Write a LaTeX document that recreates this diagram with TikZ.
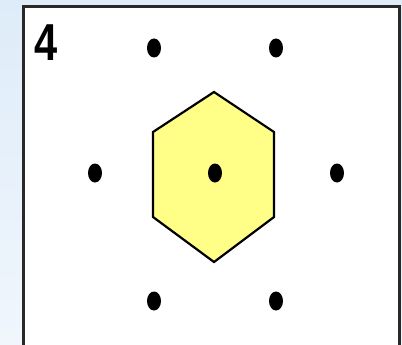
\documentclass[tikz,border=0pt]{standalone}
\usepackage{fontspec}
\setmainfont{Liberation Sans}
\usetikzlibrary{shapes.geometric}
\definecolor{bgtop}{RGB}{222,236,249}
\definecolor{bgbot}{RGB}{240,246,252}
\definecolor{frame}{RGB}{40,40,40}
\definecolor{hexfill}{RGB}{255,255,136}
\begin{document}
\begin{tikzpicture}[x=1pt,y=-1pt,
  dot/.style={ellipse, fill=black, minimum width=14pt, minimum height=19pt, inner sep=0pt},
  hexa/.style={draw=black, fill=hexfill, line width=2.2pt, line join=miter},
  frameline/.style={draw=frame, line width=3pt}]
\useasboundingbox (0,0) rectangle (402,345);
\shade[top color=bgtop, bottom color=bgbot] (0,0) rectangle (402,345);
\fill[white] (23,7) rectangle (400,345);
\draw[frameline] (23,346) -- (23,7) -- (399.5,7) -- (399.5,346);
\node[font=\bfseries\fontsize{52}{52}\selectfont, xscale=0.8, inner sep=0pt] (num) at (46.5,43) {4};
\coordinate (h1) at (214,92);
\coordinate (h2) at (274,132);
\coordinate (h3) at (274,217);
\coordinate (h4) at (214,262);
\coordinate (h5) at (153,217);
\coordinate (h6) at (153,132);
\path[hexa] (h1) -- (h2) -- (h3) -- (h4) -- (h5) -- (h6) -- cycle;
\node[dot] (d1) at (154,48) {};
\node[dot] (d2) at (276,48) {};
\node[dot] (d3) at (95,173) {};
\node[dot] (d4) at (215,173) {};
\node[dot] (d5) at (337,173) {};
\node[dot] (d6) at (154,301) {};
\node[dot] (d7) at (276,301) {};
\end{tikzpicture}
\end{document}
